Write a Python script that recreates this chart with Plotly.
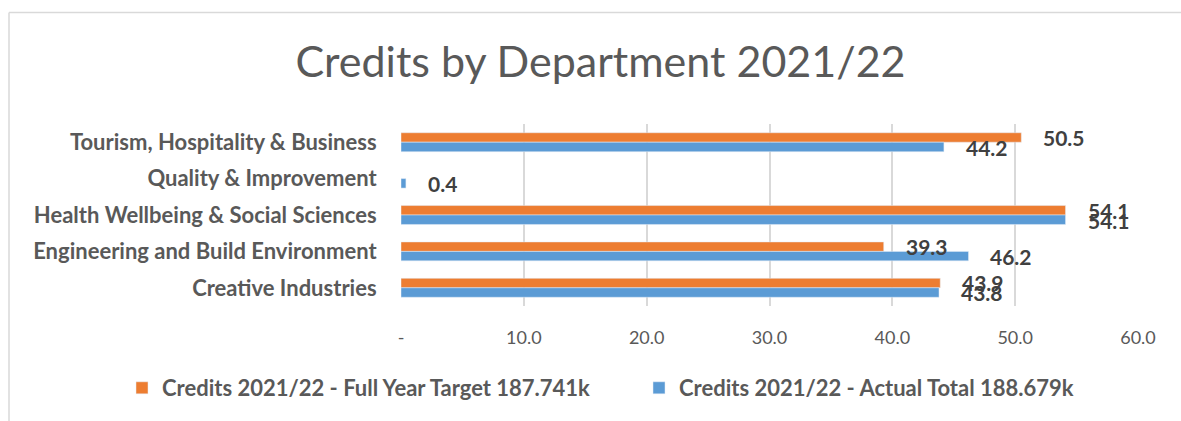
import plotly.graph_objects as go

categories = ["Creative Industries", "Engineering and Build Environment",
              "Health Wellbeing & Social Sciences", "Quality & Improvement",
              "Tourism, Hospitality & Business"]
target = [43.9, 39.3, 54.1, None, 50.5]
actual = [43.8, 46.2, 54.1, 0.4, 44.2]
target_name = "Credits 2021/22 - Full Year Target 187.741k"
actual_name = "Credits 2021/22 - Actual Total 188.679k"
tick_vals = [0, 10, 20, 30, 40, 50, 60]
tick_text = ["-", "10.0", "20.0", "30.0", "40.0", "50.0", "60.0"]

ORANGE = "#ED7D31"
BLUE = "#5B9BD5"
TXT = "#595959"
FONT = "Lato"

W, H = 1181, 421
ML, MR, MT, MB = 401, 43, 124, 115

fig = go.Figure()
fig.add_trace(go.Bar(y=categories, x=target, orientation="h", name=target_name,
                     marker_color=ORANGE, width=0.26, offset=0.0))
fig.add_trace(go.Bar(y=categories, x=actual, orientation="h", name=actual_name,
                     marker_color=BLUE, width=0.26, offset=-0.26))

ann = []
for c, v in zip(categories, target):
    if v is not None:
        ann.append(dict(x=v, y=c, text=f"{v:.1f}", xanchor="left", yanchor="middle",
                        xshift=20, yshift=5, showarrow=False,
                        font=dict(family=FONT, size=21, color="#404040", weight="bold")))
for c, v in zip(categories, actual):
    if v is not None:
        ann.append(dict(x=v, y=c, text=f"{v:.1f}", xanchor="left", yanchor="middle",
                        xshift=20, yshift=-5, showarrow=False,
                        font=dict(family=FONT, size=21, color="#404040", weight="bold")))

pw = W - ML - MR
ph = H - MT - MB
def px2x(p):
    return (p - ML) / pw
def py2y(p):
    return (H - MB - p) / ph

fig.update_layout(
    width=W, height=H,
    margin=dict(l=ML, r=MR, t=MT, b=MB),
    paper_bgcolor="white", plot_bgcolor="white",
    barmode="overlay",
    title=dict(text="Credits by Department 2021/22", x=(293 + 908) / 2 / W, xanchor="center",
               y=1 - 62 / H, yanchor="middle", yref="container",
               font=dict(family=FONT, size=43, color=TXT)),
    xaxis=dict(range=[0, 60], tickvals=tick_vals, ticktext=tick_text,
               showgrid=True, gridcolor="#D9D9D9", gridwidth=1.5, zeroline=False,
               showline=False, ticks="outside", ticklen=15, tickcolor="rgba(0,0,0,0)",
               tickfont=dict(family=FONT, size=18, color=TXT)),
    yaxis=dict(categoryorder="array", categoryarray=categories, range=[-0.5, 4.5],
               showgrid=False, zeroline=False, showline=False,
               ticks="outside", ticklen=19, tickcolor="rgba(0,0,0,0)",
               tickfont=dict(family=FONT, size=22, color=TXT, weight="bold")),
    legend=dict(orientation="h", x=px2x(122), xanchor="left", y=py2y(388), yanchor="middle",
                font=dict(family=FONT, size=22, color=TXT, weight="bold"),
                entrywidth=472, entrywidthmode="pixels",
                traceorder="normal"),
    annotations=ann,
    showlegend=True,
)
fig.add_shape(type="line", xref="paper", yref="paper", x0=px2x(9), x1=px2x(1185),
              y0=py2y(12.5), y1=py2y(12.5), line=dict(color="#D9D9D9", width=1.5))
fig.add_shape(type="line", xref="paper", yref="paper", x0=px2x(9), x1=px2x(9),
              y0=py2y(12.5), y1=py2y(425), line=dict(color="#D9D9D9", width=1.5))

fig.write_html("out.html")
